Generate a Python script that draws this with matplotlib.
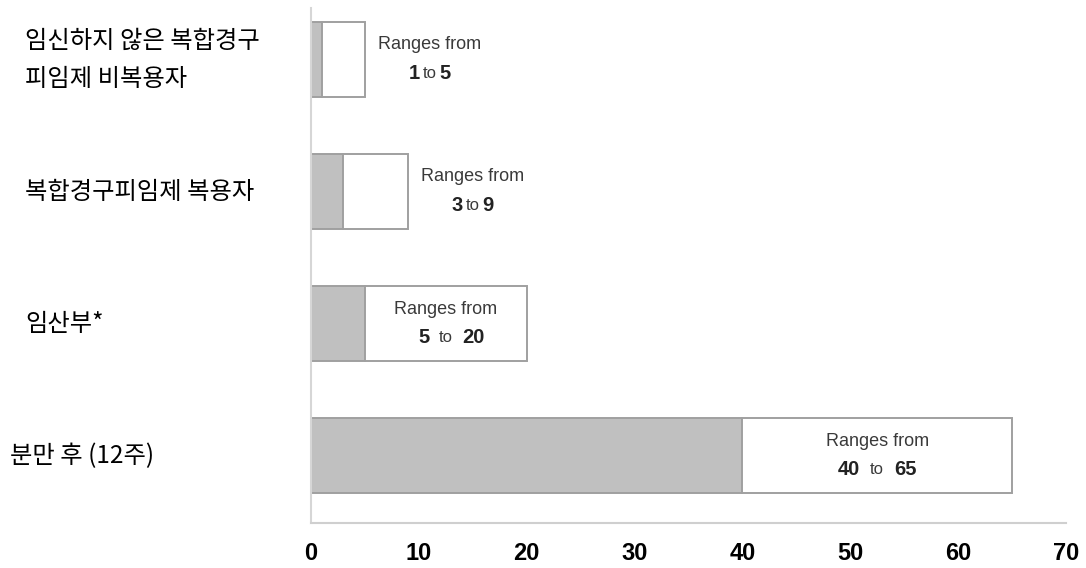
import matplotlib.pyplot as plt
import matplotlib.transforms as mtransforms

plt.rcParams['font.family'] = ['Liberation Sans', 'DejaVu Sans']

# 데이터
categories = ["임신하지 않은 복합경구\n피임제 비복용자", "복합경구피임제 복용자", "임산부*", "분만 후 (12주)"]
low = [1, 3, 5, 40]
high = [5, 9, 20, 65]
xticks = [0, 10, 20, 30, 40, 50, 60, 70]

fig = plt.figure(figsize=(10.86, 5.68), dpi=100)
ax = fig.add_axes([0.2864, 0.0792, 0.695, 0.9067])

ypos = list(range(len(categories)))
widths = [h - l for l, h in zip(low, high)]

ax.barh(ypos, low, height=0.57, color='#c0c0c0', edgecolor='#a0a0a0', linewidth=1.4)
ax.barh(ypos, widths, left=low, height=0.57, color='white', edgecolor='#a0a0a0', linewidth=1.4)

ax.set_xlim(0, 70)
ax.set_ylim(3.51, -0.39)
ax.set_xticks(xticks)
ax.set_xticklabels([str(t) for t in xticks], fontsize=17, fontweight='bold')
ax.set_yticks([])
ax.tick_params(axis='x', length=0, pad=14)

for s in ['top', 'right']:
    ax.spines[s].set_visible(False)
ax.spines['left'].set_color('#d6d6d6')
ax.spines['bottom'].set_color('#cfcfcf')
ax.spines['left'].set_linewidth(1.5)
ax.spines['bottom'].set_linewidth(1.5)

# 범위 텍스트
for y, l, h in zip(ypos, low, high):
    inside = (h - l) >= 10
    cx = (l + h) / 2 if inside else h + 6
    gap = 12 if inside else 7
    ax.annotate("Ranges from", (cx, y), xytext=(0, 10.5), textcoords='offset points',
                ha='center', va='center', fontsize=13, color='#3a3a3a')
    ax.annotate("to", (cx, y), xytext=(0, -10), textcoords='offset points',
                ha='center', va='center', fontsize=12, color='#3a3a3a')
    ax.annotate(str(l), (cx, y), xytext=(-gap, -10), textcoords='offset points',
                ha='right', va='center', fontsize=14.5, fontweight='bold', color='#222222')
    ax.annotate(str(h), (cx, y), xytext=(gap, -10), textcoords='offset points',
                ha='left', va='center', fontsize=14.5, fontweight='bold', color='#222222')

# 범주 라벨
trans = mtransforms.blended_transform_factory(fig.transFigure, ax.transData)
label_x = [0.023, 0.023, 0.023, 0.009]
for y, lab, lx in zip(ypos, categories, label_x):
    fig.text(lx, y, lab, transform=trans, ha='left', va='center', fontsize=17.5,
             family=['Noto Sans CJK KR', 'DejaVu Sans'], linespacing=1.6)

fig.savefig('out.png', dpi=100)
